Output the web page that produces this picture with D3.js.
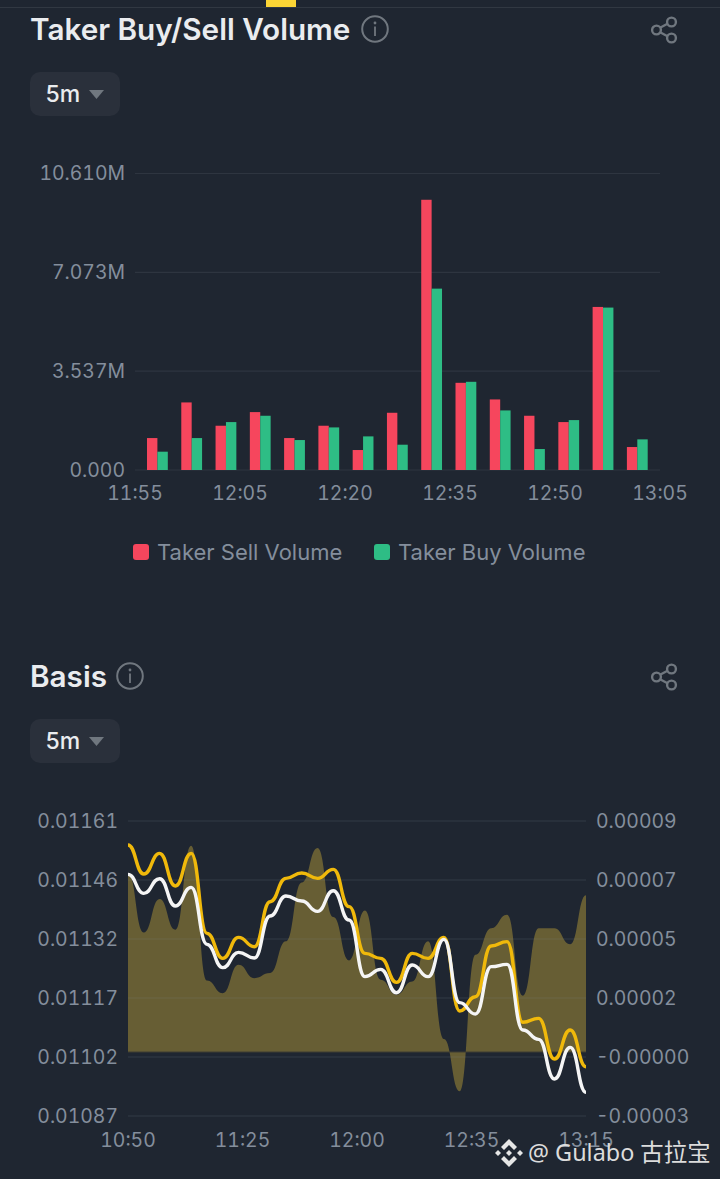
<!DOCTYPE html>
<html>
<head>
<meta charset="utf-8">
<script src="https://cdn.jsdelivr.net/npm/d3@7"></script>
<style>
  html, body { margin: 0; padding: 0; background: #1f2631; }
  svg { display: block; }
</style>
</head>
<body>
<svg id="chart"></svg>
<script>
// Taker volume data (millions)
const barTimes = ['11:55', '12:00', '12:05', '12:10', '12:15', '12:20', '12:25', '12:30', '12:35', '12:40', '12:45', '12:50', '12:55', '13:00', '13:05'];
const sellVolume = [1.143, 2.418, 1.584, 2.072, 1.143, 1.584, 0.715, 2.048, 9.670, 3.120, 2.525, 1.941, 1.715, 5.835, 0.822];
const buyVolume = [0.655, 1.143, 1.715, 1.941, 1.072, 1.524, 1.203, 0.905, 6.490, 3.156, 2.132, 0.750, 1.786, 5.812, 1.096];
const volumeTicks = [0, 3.537, 7.073, 10.610];
const volumeTickLabels = ['0.000', '3.537M', '7.073M', '10.610M'];
const volumeTimeLabels = ['11:55', '12:05', '12:20', '12:35', '12:50', '13:05'];

// Basis data, one point every 5 min from 10:50 to 13:15
const basisTimes = ['10:50', '10:55', '11:00', '11:05', '11:10', '11:15', '11:20', '11:25', '11:30', '11:35', '11:40', '11:45', '11:50', '11:55', '12:00', '12:05', '12:10', '12:15', '12:20', '12:25', '12:30', '12:35', '12:40', '12:45', '12:50', '12:55', '13:00', '13:05', '13:10', '13:15'];
const contractPrice = [0.0115498, 0.0114770, 0.0115289, 0.0114469, 0.0115289, 0.0113282, 0.0112655, 0.0113182, 0.0112947, 0.0114076, 0.0114662, 0.0114795, 0.0114662, 0.0114887, 0.0113951, 0.0112780, 0.0112655, 0.0112053, 0.0112780, 0.0112655, 0.0113182, 0.0111334, 0.0111693, 0.0112964, 0.0113073, 0.0111050, 0.0111150, 0.0110130, 0.0110857, 0.0109937];
const indexPrice = [0.0114762, 0.0114285, 0.0114653, 0.0113968, 0.0114436, 0.0113006, 0.0112421, 0.0112805, 0.0112663, 0.0113717, 0.0114218, 0.0114093, 0.0113834, 0.0114352, 0.0113616, 0.0112195, 0.0112379, 0.0111793, 0.0112487, 0.0112195, 0.0113131, 0.0111543, 0.0111258, 0.0112446, 0.0112504, 0.0110857, 0.0110623, 0.0109628, 0.0110422, 0.0109293];
const basisRate = [0.0000705, 0.0000471, 0.0000603, 0.0000482, 0.0000813, 0.0000282, 0.0000232, 0.0000344, 0.0000291, 0.0000311, 0.0000436, 0.0000668, 0.0000804, 0.0000532, 0.0000361, 0.0000557, 0.0000285, 0.0000226, 0.0000278, 0.0000436, 0.0000051, -0.0000155, 0.0000383, 0.0000488, 0.0000541, 0.0000222, 0.0000488, 0.0000488, 0.0000425, 0.0000618];
const priceTicks = [0.01161, 0.01146, 0.01132, 0.01117, 0.01102, 0.01087];
const rateTickLabels = ['0.00009', '0.00007', '0.00005', '0.00002', '-0.00000', '-0.00003'];
const basisTimeLabels = ['10:50', '11:25', '12:00', '12:35', '13:15'];

const WIDTH = 720;
const HEIGHT = 1179;
const FONT = 'Inter, "Noto Sans", sans-serif';
const GRID = '#2e3540';
const MUTED = '#848e9c';
const ICON = '#70777f';
const RED = '#f6465d';
const GREEN = '#2ebd85';
const YELLOW = '#f0b90b';

const svg = d3.select('#chart')
  .attr('width', WIDTH)
  .attr('height', HEIGHT)
  .style('font-family', FONT);

svg.append('rect').attr('width', WIDTH).attr('height', HEIGHT).attr('fill', '#1f2631');

// Tab strip at the top
svg.append('rect').attr('x', 0).attr('y', 7).attr('width', WIDTH).attr('height', 1).attr('fill', '#313842');
svg.append('rect').attr('x', 266).attr('y', 0).attr('width', 30).attr('height', 7).attr('fill', '#fcd535');

// Title, info icon, share icon and the 5m selector
const header = (title, titleY, infoX, top) => {
  svg.append('text')
    .attr('x', 30).attr('y', titleY)
    .attr('fill', '#eaecef')
    .attr('font-size', 29.7)
    .attr('font-weight', 600)
    .text(title);

  const midY = 29 + (titleY - 40);
  const info = svg.append('g').attr('transform', `translate(${infoX}, ${midY})`);
  info.append('circle').attr('r', 12.8).attr('fill', 'none').attr('stroke', ICON).attr('stroke-width', 2);
  info.append('circle').attr('cy', -6).attr('r', 1.4).attr('fill', ICON);
  info.append('rect').attr('x', -0.9).attr('y', -2.5).attr('width', 1.8).attr('height', 9.5).attr('fill', ICON);

  const share = svg.append('g')
    .attr('transform', `translate(664, ${midY + 1})`)
    .attr('fill', 'none')
    .attr('stroke', ICON)
    .attr('stroke-width', 2.4);
  share.append('path').attr('d', 'M-3.5,-2.5L4,-6.5M-3.5,2.5L4,6.5');
  share.append('circle').attr('cx', -7.5).attr('cy', 0).attr('r', 4.4);
  share.append('circle').attr('cx', 7.5).attr('cy', -8).attr('r', 4.4);
  share.append('circle').attr('cx', 7.5).attr('cy', 8).attr('r', 4.4);

  svg.append('rect')
    .attr('x', 30).attr('y', top)
    .attr('width', 90).attr('height', 44)
    .attr('rx', 10)
    .attr('fill', '#2a303b');
  svg.append('text')
    .attr('x', 45.5).attr('y', top + 30)
    .attr('fill', '#eaecef')
    .attr('font-size', 23)
    .attr('font-weight', 500)
    .text('5m');
  svg.append('path')
    .attr('d', `M89,${top + 18}L104,${top + 18}L96.5,${top + 27}Z`)
    .attr('fill', ICON);
};

header('Taker Buy/Sell Volume', 40, 375, 72);
header('Basis', 687, 130, 719);

const axisText = (g, x, y, anchor, label) => {
  g.append('text')
    .attr('x', x).attr('y', y)
    .attr('fill', MUTED)
    .attr('font-size', 19.4)
    .attr('text-anchor', anchor)
    .style('font-variant-numeric', 'tabular-nums')
    .text(label);
};

// Taker volume chart
const volumeY = d3.scaleLinear().domain([0, 10.610]).range([470, 173.5]);
const volumeX = d3.scalePoint().domain(barTimes).range([157.4, 637.3]);
const sideX = d3.scaleBand().domain(['sell', 'buy']).range([-10.4, 10.4]);
const volumeLabelX = d3.scalePoint().domain(volumeTimeLabels).range([135, 660]);

const volumeChart = svg.append('g').attr('id', 'volume');

volumeChart.selectAll('line.grid')
  .data(volumeTicks)
  .join('line')
    .attr('class', 'grid')
    .attr('x1', 135).attr('x2', 660)
    .attr('y1', d => volumeY(d)).attr('y2', d => volumeY(d))
    .attr('stroke', GRID)
    .attr('stroke-width', 1.2);

volumeTicks.forEach((d, i) => axisText(volumeChart, 125, volumeY(d) + 6.5, 'end', volumeTickLabels[i]));
volumeTimeLabels.forEach(d => axisText(volumeChart, volumeLabelX(d), 500, 'middle', d));

const drawBars = (values, side, colour) => {
  volumeChart.selectAll(`rect.${side}`)
    .data(values)
    .join('rect')
      .attr('class', side)
      .attr('x', (d, i) => volumeX(barTimes[i]) + sideX(side))
      .attr('y', d => volumeY(d))
      .attr('width', sideX.bandwidth())
      .attr('height', d => volumeY(0) - volumeY(d))
      .attr('fill', colour);
};
drawBars(sellVolume, 'sell', RED);
drawBars(buyVolume, 'buy', GREEN);

// Legend
const legend = (x, colour, label) => {
  svg.append('rect')
    .attr('x', x).attr('y', 544)
    .attr('width', 16).attr('height', 16)
    .attr('rx', 3)
    .attr('fill', colour);
  svg.append('text')
    .attr('x', x + 24).attr('y', 560)
    .attr('fill', MUTED)
    .attr('font-size', 22)
    .text(label);
};
legend(133, RED, 'Taker Sell Volume');
legend(374, GREEN, 'Taker Buy Volume');

// Basis chart
const basisX = d3.scalePoint().domain(basisTimes).range([128, 586]);
const priceY = d3.scaleLinear().domain([0.01087, 0.01161]).range([1116, 821]);
const rateY = d3.scaleLinear().domain([-0.0000252, 0.000091]).range([1116, 821]);
const basisLabelX = d3.scalePoint().domain(basisTimeLabels).range([128, 586]);
const priceTickY = d3.scalePoint().domain(priceTicks).range([821, 1116]);

const basisChart = svg.append('g').attr('id', 'basis');

const rateArea = d3.area()
  .x((d, i) => basisX(basisTimes[i]))
  .y0(rateY(0))
  .y1(d => rateY(d))
  .curve(d3.curveBumpX);

const priceLine = d3.line()
  .x((d, i) => basisX(basisTimes[i]))
  .y(d => priceY(d))
  .curve(d3.curveBumpX);

basisChart.append('path')
  .datum(basisRate)
  .attr('d', rateArea)
  .attr('fill', '#675e34');

basisChart.append('line')
  .attr('x1', 128).attr('x2', 586)
  .attr('y1', rateY(0)).attr('y2', rateY(0))
  .attr('stroke', '#3e3c33')
  .attr('stroke-width', 1.2);

basisChart.selectAll('line.grid')
  .data(priceTicks)
  .join('line')
    .attr('class', 'grid')
    .attr('x1', 128).attr('x2', 586)
    .attr('y1', d => priceTickY(d)).attr('y2', d => priceTickY(d))
    .attr('stroke', '#848e9c')
    .attr('stroke-opacity', 0.2)
    .attr('stroke-width', 1.2);

basisChart.append('path')
  .datum(contractPrice)
  .attr('d', priceLine)
  .attr('fill', 'none')
  .attr('stroke', YELLOW)
  .attr('stroke-width', 3.4);

basisChart.append('path')
  .datum(indexPrice)
  .attr('d', priceLine)
  .attr('fill', 'none')
  .attr('stroke', '#f5f5f5')
  .attr('stroke-width', 3.4);

priceTicks.forEach((d, i) => {
  axisText(basisChart, 118, priceTickY(d) + 6.5, 'end', d3.format('.5f')(d));
  axisText(basisChart, 596, priceTickY(d) + 6.5, 'start', rateTickLabels[i]);
});
basisTimeLabels.forEach(d => axisText(basisChart, basisLabelX(d), 1147, 'middle', d));

// Watermark
const mark = svg.append('g').attr('transform', 'translate(509, 1153)').attr('fill', '#e6e6e6');
const diamond = (x, y, r) => `M${x},${y - r}L${x + r},${y}L${x},${y + r}L${x - r},${y}Z`;
mark.append('path').attr('d', diamond(-11, 0, 3));
mark.append('path').attr('d', diamond(11, 0, 3));
mark.append('path').attr('d', diamond(0, 0, 3));
mark.append('path').attr('d', 'M0,-14L8,-6L5,-3L0,-8L-5,-3L-8,-6Z');
mark.append('path').attr('d', 'M0,14L8,6L5,3L0,8L-5,3L-8,6Z');

svg.append('text')
  .attr('x', 528).attr('y', 1161)
  .attr('fill', '#dcdcdc')
  .attr('font-family', '"Noto Sans", "Noto Sans CJK SC", sans-serif')
  .attr('font-size', 23.4)
  .text('@ Gulabo 古拉宝');
</script>
</body>
</html>
